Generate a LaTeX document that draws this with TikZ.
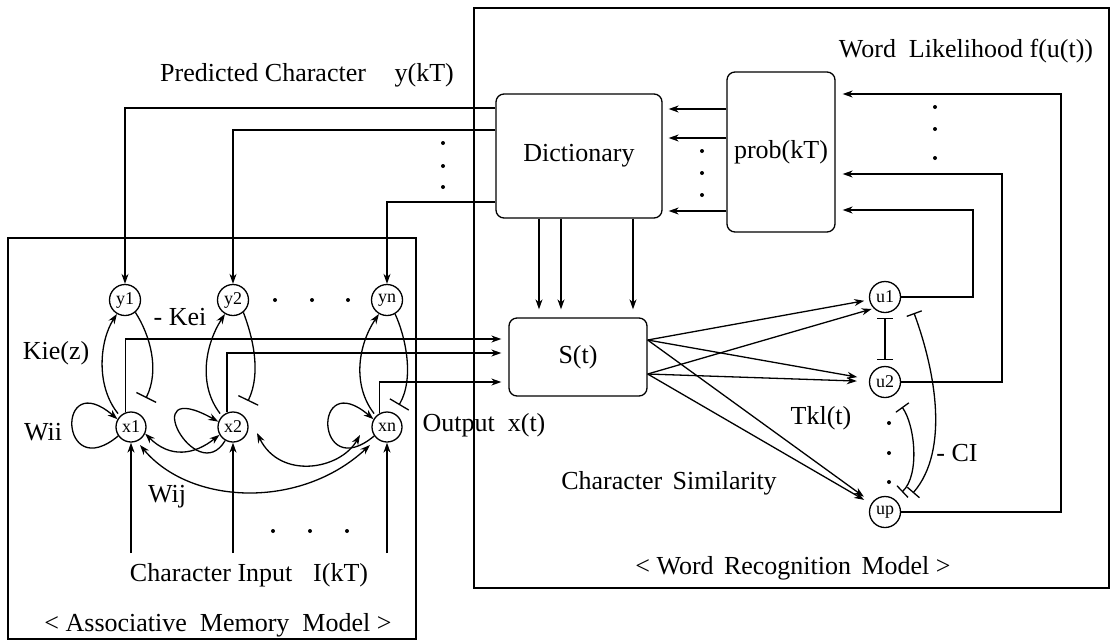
\documentclass[tikz,border=0pt]{standalone}
\usepackage{fontspec}
\setmainfont{Liberation Serif}
\usetikzlibrary{arrows.meta,calc}
\begin{document}
\begin{tikzpicture}[x=1pt,y=-1pt,
  every node/.style={font=\fontsize{26}{30}\selectfont, inner sep=0pt},
  lw/.style={line width=1.3pt},
  arr/.style={lw,-{Stealth[length=10pt,width=7pt]}},
  dblarr/.style={lw,{Stealth[length=10pt,width=7pt]}-{Stealth[length=10pt,width=7pt]}},
  inh/.style={lw,-{Bar[width=22pt]}},
  dinh/.style={lw,{Bar[width=16pt]}-{Bar[width=16pt]}},
  neuron/.style={draw,lw,circle,minimum size=31pt,inner sep=0pt,font=\fontsize{18}{19}\selectfont},
  unit/.style={draw,lw,rounded corners=8pt},
  frame/.style={draw,lw}
]
\useasboundingbox (0,0) rectangle (1111,641);

% frames
\draw[frame] (8,238) rectangle (416,639);
\draw[frame] (474,8) rectangle (1109,588);

% blocks
\node[unit, minimum width=166pt, minimum height=124pt] (dict) at (579,156) {Dictionary};
\node[unit, minimum width=108pt, minimum height=160pt] (prob) at (781,152) {prob(kT)};
\node[unit, minimum width=138pt, minimum height=78pt] (S) at (578,357) {S(t)};

% neurons
\node[neuron] (y1) at (125,300) {y1};
\node[neuron] (y2) at (233,300) {y2};
\node[neuron] (yn) at (387,300) {yn};
\node[neuron, minimum size=30pt] (x1) at (131,427) {x1};
\node[neuron, minimum size=30pt] (x2) at (233,427) {x2};
\node[neuron, minimum size=30pt] (xn) at (387,427) {xn};
\node[neuron] (u1) at (885,297) {u1};
\node[neuron] (u2) at (885,382) {u2};
\node[neuron] (up) at (885,512) {up};

% dictionary -> predicted characters
\draw[arr] (dict.west |- 0,108) -| (y1);
\draw[arr] (dict.west |- 0,130) -| (y2);
\draw[arr] (dict.west |- 0,202) -| (yn);

% prob -> dictionary
\draw[arr, shorten >=6pt] (prob.west |- 0,109) -- (dict.east |- 0,109);
\draw[arr, shorten >=6pt] (prob.west |- 0,138) -- (dict.east |- 0,138);
\draw[arr, shorten >=6pt] (prob.west |- 0,211) -- (dict.east |- 0,211);

% word units -> prob
\draw[arr, shorten >=7pt] (u1.east) -| (973,210) -- (prob.east |- 0,210);
\draw[arr, shorten >=7pt] (u2.east) -| (1002,174) -- (prob.east |- 0,174);
\draw[arr, shorten >=7pt] (up.east) -| (1061,94) -- (prob.east |- 0,94);

% dictionary -> S
\draw[arr, shorten >=8pt] (dict.south -| 539,0) -- (S.north -| 539,0);
\draw[arr, shorten >=8pt] (dict.south -| 561,0) -- (S.north -| 561,0);
\draw[arr, shorten >=8pt] (dict.south -| 633,0) -- (S.north -| 633,0);

% outputs x -> S
\draw[arr, shorten >=7pt] (x1.110) |- (S.west |- 0,339);
\draw[arr, shorten >=7pt] (x2.112) |- (S.west |- 0,353);
\draw[arr, shorten >=7pt] (xn.120) |- (S.west |- 0,382);

% character inputs
\coordinate (i1) at (131,553);
\coordinate (i2) at (233,553);
\coordinate (iN) at (387,553);
\draw[arr] (i1) -- (x1);
\draw[arr] (i2) -- (x2);
\draw[arr] (iN) -- (xn);

% S -> word units
\coordinate (sa) at (S.east |- 0,340);
\coordinate (sb) at (S.east |- 0,374);
\draw[arr, shorten >=5pt] (sa) -- (u1);
\draw[arr, shorten >=12pt] (sa) -- (u2);
\draw[arr, shorten >=10pt] (sa) -- (up);
\draw[arr, shorten >=2pt] (sb) -- (u1.225);
\draw[arr, shorten >=12pt] (sb) -- (u2);
\draw[arr, shorten >=8pt] (sb) -- (up);

% lateral inhibition among word units
\draw[dinh, shorten <=5pt, shorten >=6pt] (u1) -- (u2);
\draw[dinh] ($(u1)+(29,16)$) .. controls (935,370) and (950,450) .. ($(up)+(28,-19)$);
\draw[dinh] ($(u2)+(17,25)$) .. controls (915,425) and (920,475) .. ($(up)+(17,-20)$);

% Kie(z): x -> y
\draw[arr, shorten <=3pt] (x1.135) .. controls (95,385) and (100,340) .. (y1.240);
\draw[arr, shorten <=3pt] (x2.135) .. controls (198,385) and (205,345) .. (y2.240);
\draw[arr, shorten <=3pt] (xn.135) .. controls (352,385) and (358,345) .. (yn.240);

% -Kei: y -| x
\draw[inh] (y1.-50) .. controls (150,335) and (160,370) .. ($(x1)+(15,-29)$);
\draw[inh] (y2.-50) .. controls (252,335) and (262,372) .. ($(x2)+(15,-26)$);
\draw[inh] (yn.-60) .. controls (405,335) and (415,378) .. ($(xn)+(12,-22)$);

% Wii self loops
\draw[arr] (x1.215) .. controls +(-59,49) and +(-62,-53) .. (x1.150);
\draw[arr] (x2.-120) .. controls +(-29,49) and +(-84,-47) .. (x2.160);
\draw[arr] (xn.215) .. controls +(-59,49) and +(-62,-53) .. (xn.150);

% Wij mutual connections
\draw[dblarr] (x1.-25) .. controls +(25,25) and +(-25,20) .. (x2.-150);
\draw[dblarr] ($(x2)+(24,6)$) .. controls (280,480) and (340,470) .. ($(xn)+(-27,8)$);
\draw[dblarr] ($(x1)+(9,18)$) .. controls (190,505) and (300,510) .. ($(xn)+(-17,18)$);

% dots
\foreach \p in {(443,143),(443,166),(443,187),
                (702,151),(702,173),(702,195),
                (935,107),(935,129),(935,158),
                (889,423),(889,453),(889,482),
                (275,300),(312,300),(348,300),
                (273,531),(310,531),(347,531)}
  \fill \p circle (2pt);

% labels
\node (tpred) at (307,75) {Predicted Character\hspace{1.1em}y(kT)};
\node (tword) at (966,51) {Word\hspace{0.5em}Likelihood f(u(t))};
\node (tkie) at (56,353) {Kie(z)};
\node (tkei) at (180,317) {- Kei};
\node (twii) at (43,432) {Wii};
\node (twij) at (167,497) {Wij};
\node (tin) at (249,575) {Character Input\hspace{0.8em}I(kT)};
\node (tamm) at (218,625) {< Associative\hspace{0.5em}Memory\hspace{0.5em}Model >};
\node (tout) at (484,425) {Output\hspace{0.5em}x(t)};
\node (ttkl) at (821,418) {Tkl(t)};
\node (tci) at (957,453) {- CI};
\node (tsim) at (669,483) {Character\hspace{0.4em}Similarity};
\node (twrm) at (793,568) {< Word\hspace{0.4em}Recognition\hspace{0.4em}Model >};
\end{tikzpicture}
\end{document}
